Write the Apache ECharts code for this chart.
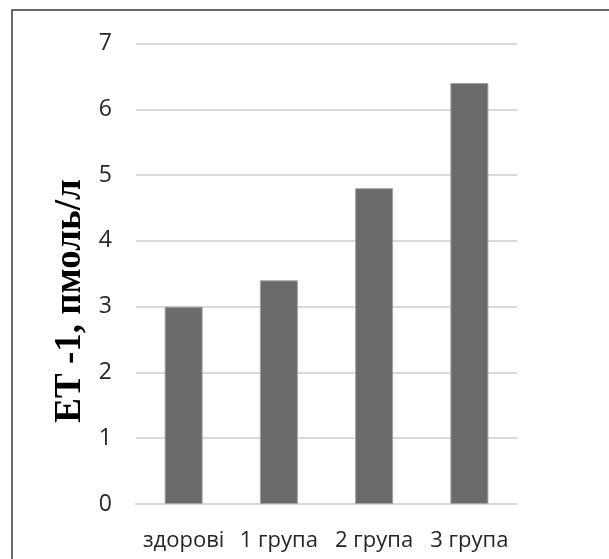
<!DOCTYPE html>
<html>
<head>
<meta charset="utf-8">
<script src="https://cdn.jsdelivr.net/npm/echarts@6/dist/echarts.min.js"></script>
<style>
  html, body { margin: 0; padding: 0; background: #fff; }
  #chart { width: 609px; height: 559px; }
</style>
</head>
<body>
<div id="chart"></div>
<script>
// Endothelin-1 level by group
var categories = ['здорові', '1 група', '2 група', '3 група'];
var values = [3.0, 3.4, 4.8, 6.4];
var yTicks = { min: 0, max: 7, interval: 1 };
var yTitle = 'ЕТ -1, пмоль/л';

var chart = echarts.init(document.getElementById('chart'), null, { renderer: 'canvas' });

chart.setOption({
  animation: false,
  backgroundColor: '#ffffff',
  grid: { left: 136, right: 92, top: 43.5, bottom: 55 },
  xAxis: {
    type: 'category',
    data: categories,
    axisLine: { show: true, lineStyle: { color: '#d9d9d9', width: 2 } },
    axisTick: { show: false },
    axisLabel: {
      interval: 0,
      color: '#262626',
      fontFamily: 'Open Sans',
      fontSize: 22,
      margin: 26
    }
  },
  yAxis: {
    type: 'value',
    min: yTicks.min,
    max: yTicks.max,
    interval: yTicks.interval,
    axisLine: { show: false },
    axisTick: { show: false },
    splitLine: { lineStyle: { color: '#d9d9d9', width: 2 } },
    axisLabel: {
      color: '#262626',
      fontFamily: 'Open Sans',
      fontSize: 23,
      margin: 24
    }
  },
  series: [{
    type: 'bar',
    data: values,
    barWidth: 38,
    itemStyle: {
      color: '#6a6a6a',
      borderColor: '#a3a3a3',
      borderWidth: 1
    },
    z: 3
  }],
  graphic: [
    {
      type: 'polyline',
      shape: { points: [[12, 559], [12, 10], [609, 10]] },
      style: { stroke: '#3a3a3a', lineWidth: 1.5, fill: null }
    },
    {
      type: 'text',
      left: 126,
      top: -12,
      style: { text: 'х', fill: '#262626', fontSize: 15, fontFamily: 'Open Sans' }
    },
    {
      // vertical axis title
      type: 'text',
      x: 70,
      y: 301,
      rotation: Math.PI / 2,
      style: {
        text: yTitle,
        fill: '#000000',
        fontFamily: 'Liberation Serif',
        fontWeight: 'bold',
        fontSize: 37,
        align: 'center',
        verticalAlign: 'middle'
      }
    }
  ]
});
</script>
</body>
</html>
